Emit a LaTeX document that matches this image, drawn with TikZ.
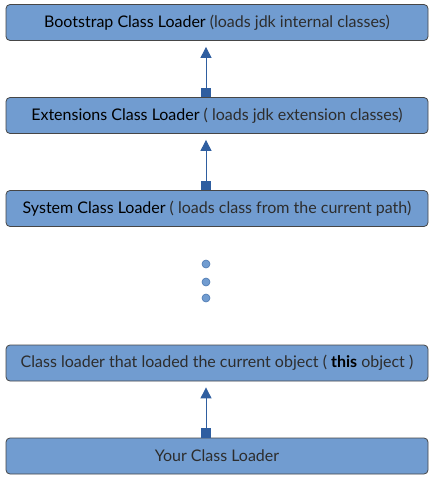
\documentclass[tikz,border=0pt]{standalone}
\usepackage{fontspec}
\setmainfont{Lato}
\usetikzlibrary{arrows.meta}
\definecolor{boxfill}{RGB}{113,156,208}
\definecolor{boxline}{RGB}{70,70,70}
\definecolor{arrowc}{RGB}{47,94,160}
\definecolor{dotline}{RGB}{74,119,176}
\definecolor{txtgray}{RGB}{45,45,45}
\tikzset{
  loaderbox/.style={draw=boxline, line width=0.8pt, fill=boxfill, rounded corners=4pt,
    minimum width=422pt, minimum height=36pt, inner sep=0pt, text=txtgray,
    font=\fontsize{16}{18}\selectfont},
  uparrow/.style={draw=arrowc, line width=1pt,
    {Square[length=9.5pt,width=9.5pt]}-{Triangle[length=11pt,width=11pt]}},
  vdot/.style={circle, fill=boxfill, draw=dotline, line width=0.6pt, minimum size=8pt, inner sep=0pt}
}
\begin{document}
\begin{tikzpicture}[x=1pt,y=-1pt]
\useasboundingbox (0,0) rectangle (434,483);
\node[loaderbox] (boot) at (217,22.5) {\textcolor{black}{Bootstrap Class Loader} (loads jdk internal classes)};
\node[loaderbox] (ext) at (217,115.5) {\textcolor{black}{Extensions Class Loader} ( loads jdk extension classes)};
\node[loaderbox] (sys) at (217,208.5) {\textcolor{black}{System Class Loader} ( loads class from the current path)};
\node[loaderbox] (cur) at (217,363) {Class loader that loaded the current object ( \textcolor{black}{\textbf{this}} object )};
\node[loaderbox] (your) at (217,456) {Your Class Loader};
\node[vdot] (d1) at (206,264) {};
\node[vdot] (d2) at (206,282) {};
\node[vdot] (d3) at (206,298) {};
\draw[uparrow] ([xshift=-11pt]ext.north) -- ([xshift=-11pt,yshift=-6pt]boot.south);
\draw[uparrow] ([xshift=-11pt]sys.north) -- ([xshift=-11pt,yshift=-6pt]ext.south);
\draw[uparrow] ([xshift=-11pt]your.north) -- ([xshift=-11pt,yshift=-6pt]cur.south);
\end{tikzpicture}
\end{document}
